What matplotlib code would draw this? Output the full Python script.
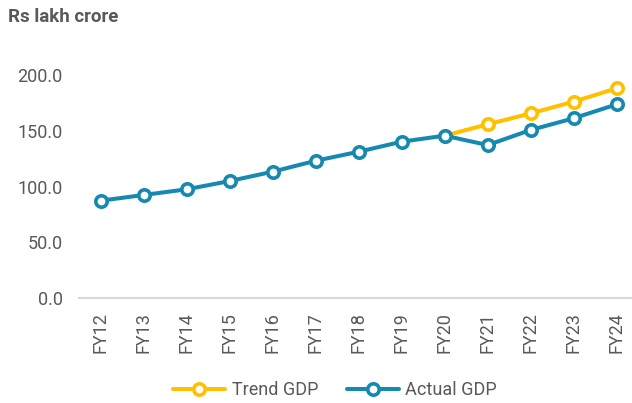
import numpy as np
import matplotlib.pyplot as plt

years = ["FY12", "FY13", "FY14", "FY15", "FY16", "FY17", "FY18",
         "FY19", "FY20", "FY21", "FY22", "FY23", "FY24"]
actual_gdp = [87.3, 92.4, 97.5, 104.9, 113.3, 123.1, 131.2,
              140.2, 145.6, 137.2, 150.7, 161.2, 173.7]
trend_gdp = [np.nan, np.nan, np.nan, np.nan, np.nan, np.nan, np.nan,
             np.nan, 145.6, 155.8, 165.6, 176.1, 188.1]
y_ticks = [0, 50, 100, 150, 200]

BLUE = "#1689B1"
YELLOW = "#FFC000"
GREY = "#595959"

plt.rcParams["font.family"] = ["Roboto", "DejaVu Sans"]

fig = plt.figure(figsize=(6.32, 4.03), dpi=100)
ax = fig.add_axes([0.1253, 0.2605, 0.8845, 0.6087])

x = np.arange(len(years))
style = dict(lw=2.9, marker="o", markersize=8.2, markeredgewidth=2.6,
             markerfacecolor="white", solid_capstyle="round")
ax.plot(x, trend_gdp, color=YELLOW, label="Trend GDP", zorder=2, **style)
ax.plot(x, actual_gdp, color=BLUE, label="Actual GDP", zorder=3, **style)

ax.set_xlim(-0.5, len(years) - 0.5)
ax.set_ylim(0, 220)
ax.set_xticks(x)
ax.set_xticklabels(years, rotation=90)
ax.set_yticks(y_ticks)
ax.set_yticklabels([f"{v:.1f}" for v in y_ticks])
ax.tick_params(axis="both", length=0, labelsize=13, labelcolor=GREY)
ax.tick_params(axis="x", pad=10)
ax.tick_params(axis="y", pad=12)

for side in ["top", "right", "left"]:
    ax.spines[side].set_visible(False)
ax.spines["bottom"].set_color("#D9D9D9")
ax.spines["bottom"].set_linewidth(1.5)

fig.text(8 / 632, 1 - 22 / 403, "Rs lakh crore", fontsize=13.5,
         fontweight="bold", color=GREY, va="baseline", ha="left")

fig.legend(loc="center", bbox_to_anchor=(0.53, 0.032), ncol=2,
           frameon=False, fontsize=13, labelcolor=GREY,
           handlelength=2.9, handletextpad=0.35, columnspacing=1.6)

fig.savefig("out.png", dpi=100)
